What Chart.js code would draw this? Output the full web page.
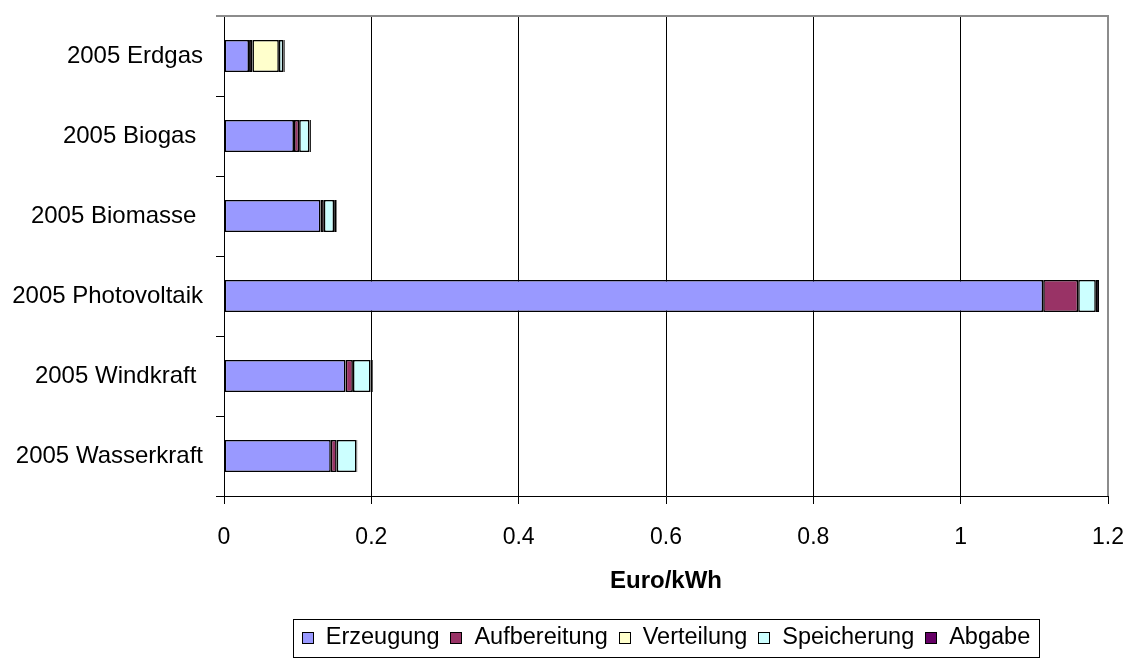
<!DOCTYPE html>
<html>
<head>
<meta charset="utf-8">
<script src="https://cdn.jsdelivr.net/npm/chart.js@4.4.1/dist/chart.umd.min.js"></script>
<style>
  html, body { margin: 0; padding: 0; background: #fff; }
  #wrap { width: 1133px; height: 658px; }
</style>
</head>
<body>
<div id="wrap"><canvas id="c" width="1133" height="658"></canvas></div>
<script>
// Cost components per energy source, Euro/kWh (2005)
const categories = ['2005 Erdgas', '2005 Biogas ', '2005 Biomasse ', '2005 Photovoltaik', '2005 Windkraft ', '2005 Wasserkraft'];
const erzeugung    = [0.034, 0.095, 0.131, 1.112, 0.165, 0.145];
const aufbereitung = [0.0045, 0.007, 0.0045, 0.0475, 0.010, 0.008];
const verteilung   = [0.036, null, null, null, null, null];
const speicherung  = [0.006, 0.014, 0.014, 0.024, 0.024, 0.027];
const abgabe       = [0.002, 0.002, 0.0035, 0.0045, 0.003, 0.001];
const seriesNames  = ['Erzeugung', 'Aufbereitung', 'Verteilung', 'Speicherung', 'Abgabe'];
const seriesColors = ['#9999FF', '#993366', '#FFFFCC', '#CCFFFF', '#660066'];
const xTicks = { min: 0, max: 1.2, step: 0.2 };

const FONT = "'Liberation Sans', Arial, sans-serif";
const seriesValues = [erzeugung, aufbereitung, verteilung, speicherung, abgabe];

// Grey plot frame (top/right) and a boxed legend below the axis title
const framePlugin = {
  id: 'frameAndLegend',
  afterDraw(chart) {
    const ctx = chart.ctx;
    const ca = chart.chartArea;
    ctx.save();
    ctx.strokeStyle = '#8c8c8c';
    ctx.lineWidth = 2;
    ctx.beginPath();
    ctx.moveTo(ca.left - 8, ca.top);
    ctx.lineTo(ca.right, ca.top);
    ctx.lineTo(ca.right, ca.bottom);
    ctx.stroke();

    const box = 12, gapText = 12, gapItem = 11, padX = 9;
    const top = 619, bottom = 657, cy = 638;
    ctx.font = '23.5px ' + FONT;
    const items = chart.data.datasets.map(d => ({
      label: d.label, color: d.backgroundColor, w: ctx.measureText(d.label).width
    }));
    let total = items.reduce((s, it) => s + box + gapText + it.w, 0) + gapItem * (items.length - 1);
    const cx = (ca.left + ca.right) / 2;
    let x = cx - total / 2;
    ctx.strokeStyle = '#000';
    ctx.lineWidth = 1;
    ctx.strokeRect(Math.round(x - padX) + 0.5, top + 0.5, Math.round(total + 2 * padX), bottom - top);
    ctx.textBaseline = 'middle';
    ctx.textAlign = 'left';
    items.forEach(it => {
      const bx = Math.round(x), by = Math.round(cy - box / 2);
      ctx.fillStyle = it.color;
      ctx.fillRect(bx, by, box, box);
      ctx.strokeRect(bx + 0.5, by + 0.5, box - 1, box - 1);
      ctx.fillStyle = '#000';
      ctx.fillText(it.label, x + box + gapText, cy);
      x += box + gapText + it.w + gapItem;
    });
    ctx.restore();
  }
};

new Chart(document.getElementById('c'), {
  type: 'bar',
  data: {
    labels: categories,
    datasets: seriesNames.map((name, i) => ({
      label: name,
      data: seriesValues[i],
      backgroundColor: seriesColors[i],
      borderColor: '#000',
      borderWidth: 1.6,
      borderSkipped: false,
      barPercentage: 0.4,
      categoryPercentage: 1.0
    }))
  },
  options: {
    responsive: false,
    animation: false,
    indexAxis: 'y',
    layout: { padding: { top: 16, right: 25, left: 0, bottom: 58 } },
    plugins: { legend: { display: false }, tooltip: { enabled: false } },
    scales: {
      x: {
        stacked: true,
        min: xTicks.min,
        max: xTicks.max,
        ticks: {
          stepSize: xTicks.step, color: '#000', font: { family: FONT, size: 23 }, padding: 20, maxRotation: 0,
          callback: v => String(Number(v.toFixed(2)))
        },
        grid: { color: '#000', lineWidth: 1, tickLength: 8, tickColor: '#000' },
        border: { color: '#000', width: 1 },
        title: { display: true, text: 'Euro/kWh', color: '#000', font: { family: FONT, size: 24, weight: 'bold' }, padding: { top: 4, bottom: 4 } },
        afterFit(s) { s.height = 104; s.paddingLeft = 0; s.paddingRight = 0; }
      },
      y: {
        stacked: true,
        ticks: { color: '#000', font: { family: FONT, size: 24 }, padding: 13 },
        grid: { offset: true, drawOnChartArea: false, tickLength: 8, tickColor: '#000' },
        border: { color: '#000', width: 1 },
        afterFit(s) { s.width = 224; s.paddingTop = 0; s.paddingBottom = 0; }
      }
    }
  },
  plugins: [framePlugin]
});
</script>
</body>
</html>
